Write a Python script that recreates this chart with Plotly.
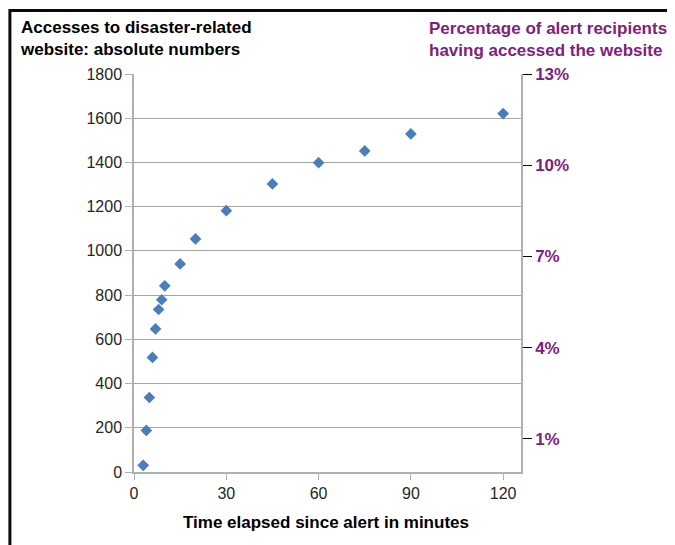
import plotly.graph_objects as go

minutes = [3, 4, 5, 6, 7, 8, 9, 10, 15, 20, 30, 45, 60, 75, 90, 120]
accesses = [30, 188, 337, 518, 647, 735, 779, 842, 941, 1054, 1182, 1303, 1399, 1452, 1529, 1621]

x_ticks = [0, 30, 60, 90, 120]
left_ticks = list(range(0, 1801, 200))
pct_ticks = [1, 4, 7, 10, 13]
pct_labels = ["1%", "4%", "7%", "10%", "13%"]

PURPLE = "#80207F"
BLUE = "#4A7EBB"
GRID = "#A6A6A6"
AXIS = "#B0B0B0"
TXT = "#262626"
BORDER = "#0A0A0A"
FONT = "Liberation Sans, Arial, sans-serif"

fig = go.Figure()
fig.add_trace(go.Scatter(
    x=minutes, y=accesses, mode="markers",
    marker=dict(symbol="diamond", size=9, color=BLUE),
    showlegend=False, hoverinfo="x+y"))
# empty trace to anchor the right-hand percentage axis
fig.add_trace(go.Scatter(x=[], y=[], yaxis="y2", showlegend=False, hoverinfo="skip"))

# page offset of the figure inside the browser window (body margin)
OFF = 8
W, H = 675 - OFF, 545 - OFF
# plot area in window pixels: x 134..520.7, y 74..472.3
L, R, T, B = 134, 520.7, 74, 472.3
pw, ph = R - L, B - T


def px(xp):
    return (xp - L) / pw


def py(yp):
    return (B - yp) / ph


border_shapes = [
    # outer frame: only its top and left edges fall inside the figure
    dict(type="rect", xref="paper", yref="paper", x0=px(10), x1=px(700), y0=py(600), y1=py(10.5),
         line=dict(color=BORDER, width=3), fillcolor="rgba(0,0,0,0)", layer="above"),
]

fig.update_layout(
    width=W, height=H,
    margin=dict(l=L - OFF, r=W - (R - OFF), t=T - OFF, b=H - (B - OFF), pad=0),
    paper_bgcolor="white", plot_bgcolor="white",
    font=dict(family=FONT, size=16, color=TXT),
    xaxis=dict(
        range=[0, 125.8], tickvals=x_ticks, showgrid=False, zeroline=False,
        showline=True, linecolor=AXIS, linewidth=1.5,
        ticks="outside", ticklen=6, tickcolor=AXIS,
        tickfont=dict(family=FONT, size=16, color=TXT)),
    yaxis=dict(
        range=[0, 1800], tickvals=left_ticks, showgrid=True, gridcolor=GRID, gridwidth=1,
        zeroline=False, showline=True, linecolor=AXIS, linewidth=1.5,
        ticks="outside", ticklen=7, tickcolor=AXIS,
        tickfont=dict(family=FONT, size=16, color=TXT)),
    yaxis2=dict(
        overlaying="y", side="right", range=[-0.09, 13.0],
        tickvals=pct_ticks, ticktext=pct_labels, showgrid=False, zeroline=False,
        showline=True, linecolor=AXIS, linewidth=1.5,
        ticks="outside", ticklen=9, tickcolor="#000000",
        tickfont=dict(family=FONT, size=17, color=PURPLE, weight="bold")),
    annotations=[
        dict(xref="paper", yref="paper", x=px(18), y=py(16), xanchor="left", yanchor="top",
             align="left", showarrow=False,
             text="Accesses to disaster-related<br>website: absolute numbers",
             font=dict(family=FONT, size=17, color="#000000", weight="bold")),
        dict(xref="paper", yref="paper", x=px(427), y=py(17), xanchor="left", yanchor="top",
             align="left", showarrow=False,
             text="Percentage of alert recipients<br>having accessed the website",
             font=dict(family=FONT, size=17, color=PURPLE, weight="bold")),
        dict(xref="paper", yref="paper", x=px(325.5), y=py(523), xanchor="center", yanchor="middle",
             showarrow=False, text="Time elapsed since alert in minutes",
             font=dict(family=FONT, size=17, color="#000000", weight="bold")),
    ],
    shapes=border_shapes,
)

fig.write_html("out.html")
